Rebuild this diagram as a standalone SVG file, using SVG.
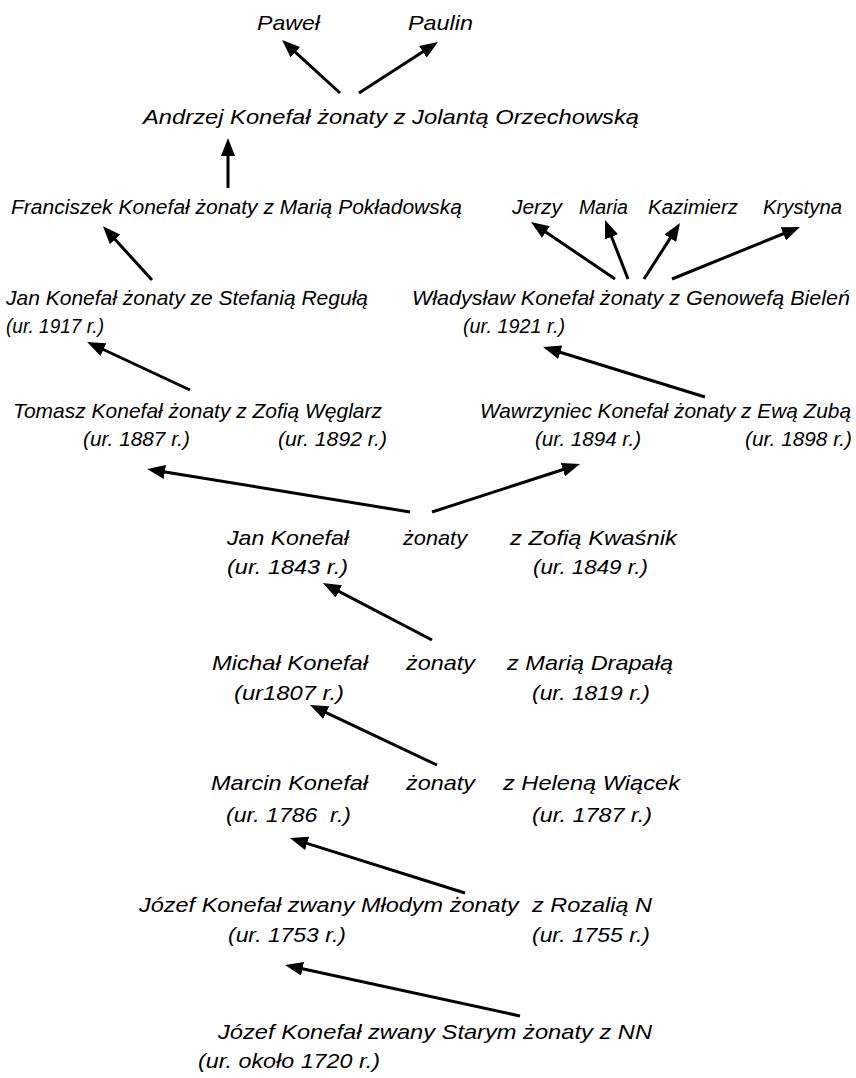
<svg xmlns="http://www.w3.org/2000/svg" width="856" height="1078" viewBox="0 0 856 1078">
  <style>
    text { font-family: "Liberation Sans Narrow", "Liberation Sans", Arial, sans-serif; font-style: italic; font-size: 21px; fill: #000; }
    .s { font-size: 20px; }
    .edge { stroke: #000; stroke-width: 3; fill: none; marker-end: url(#arrow); }
  </style>
  <defs>
    <marker id="arrow" markerUnits="userSpaceOnUse" markerWidth="18" markerHeight="14" refX="6" refY="7" orient="auto">
      <path d="M0,0 L18,7 L0,14 z" fill="#000"/>
    </marker>
  </defs>

  <rect width="856" height="1078" fill="#fff"/>

  <g id="connectors">
    <line class="edge" x1="340" y1="93" x2="290.9" y2="48.1"/>
    <line class="edge" x1="359" y1="93" x2="427.9" y2="48.5"/>
    <line class="edge" x1="228" y1="188" x2="228" y2="150"/>
    <line class="edge" x1="152" y1="280" x2="111" y2="235"/>
    <line class="edge" x1="615" y1="279" x2="540.9" y2="228.7"/>
    <line class="edge" x1="628" y1="279" x2="609.4" y2="231.2"/>
    <line class="edge" x1="644" y1="279" x2="673.5" y2="233.1"/>
    <line class="edge" x1="672" y1="279" x2="788.9" y2="231.5"/>
    <line class="edge" x1="190" y1="390" x2="98" y2="347"/>
    <line class="edge" x1="705" y1="397" x2="554.5" y2="350.5"/>
    <line class="edge" x1="410" y1="512" x2="159" y2="471"/>
    <line class="edge" x1="432" y1="512" x2="568.6" y2="467.7"/>
    <line class="edge" x1="432" y1="640" x2="333.6" y2="588.6"/>
    <line class="edge" x1="437" y1="765" x2="320.8" y2="710.1"/>
    <line class="edge" x1="465" y1="893" x2="301.4" y2="841.6"/>
    <line class="edge" x1="520" y1="1016" x2="296.7" y2="967.5"/>
  </g>

  <g id="pawel"><text x="257" y="30" textLength="63" lengthAdjust="spacingAndGlyphs">Paweł</text></g>
  <g id="paulin"><text x="408" y="30" textLength="65" lengthAdjust="spacingAndGlyphs">Paulin</text></g>

  <g id="andrzej"><text x="143" y="124" textLength="496" lengthAdjust="spacingAndGlyphs">Andrzej Konefał żonaty z Jolantą Orzechowską</text></g>

  <g id="franciszek"><text class="s" x="11" y="214" textLength="451" lengthAdjust="spacingAndGlyphs">Franciszek Konefał żonaty z Marią Pokładowską</text></g>
  <g id="jerzy"><text class="s" x="512" y="214" textLength="50" lengthAdjust="spacingAndGlyphs">Jerzy</text></g>
  <g id="maria"><text class="s" x="579" y="214" textLength="49" lengthAdjust="spacingAndGlyphs">Maria</text></g>
  <g id="kazimierz"><text class="s" x="648" y="214" textLength="90" lengthAdjust="spacingAndGlyphs">Kazimierz</text></g>
  <g id="krystyna"><text class="s" x="763" y="214" textLength="79" lengthAdjust="spacingAndGlyphs">Krystyna</text></g>

  <g id="jan-1917">
    <text x="6" y="305" textLength="362" lengthAdjust="spacingAndGlyphs">Jan Konefał żonaty ze Stefanią Regułą</text>
    <text x="6" y="333" textLength="98" lengthAdjust="spacingAndGlyphs">(ur. 1917 r.)</text>
  </g>
  <g id="wladyslaw">
    <text x="412" y="305" textLength="438" lengthAdjust="spacingAndGlyphs">Władysław Konefał żonaty z Genowefą Bieleń</text>
    <text x="463" y="333" textLength="102" lengthAdjust="spacingAndGlyphs">(ur. 1921 r.)</text>
  </g>

  <g id="tomasz">
    <text x="13" y="418" textLength="369" lengthAdjust="spacingAndGlyphs">Tomasz Konefał żonaty z Zofią Węglarz</text>
    <text x="83" y="446" textLength="107" lengthAdjust="spacingAndGlyphs">(ur. 1887 r.)</text>
    <text x="278" y="446" textLength="109" lengthAdjust="spacingAndGlyphs">(ur. 1892 r.)</text>
  </g>
  <g id="wawrzyniec">
    <text x="480" y="418" textLength="371" lengthAdjust="spacingAndGlyphs">Wawrzyniec Konefał żonaty z Ewą Zubą</text>
    <text x="535" y="446" textLength="106" lengthAdjust="spacingAndGlyphs">(ur. 1894 r.)</text>
    <text x="745" y="446" textLength="107" lengthAdjust="spacingAndGlyphs">(ur. 1898 r.)</text>
  </g>

  <g id="jan-1843">
    <text x="227" y="545" textLength="122" lengthAdjust="spacingAndGlyphs">Jan Konefał</text>
    <text x="403" y="545" textLength="64" lengthAdjust="spacingAndGlyphs">żonaty</text>
    <text x="510" y="545" textLength="167" lengthAdjust="spacingAndGlyphs">z Zofią Kwaśnik</text>
    <text x="227" y="574" textLength="121" lengthAdjust="spacingAndGlyphs">(ur. 1843 r.)</text>
    <text x="533" y="574" textLength="115" lengthAdjust="spacingAndGlyphs">(ur. 1849 r.)</text>
  </g>

  <g id="michal">
    <text x="212" y="670" textLength="156" lengthAdjust="spacingAndGlyphs">Michał Konefał</text>
    <text x="406" y="670" textLength="69" lengthAdjust="spacingAndGlyphs">żonaty</text>
    <text x="507" y="670" textLength="166" lengthAdjust="spacingAndGlyphs">z Marią Drapałą</text>
    <text x="234" y="700" textLength="110" lengthAdjust="spacingAndGlyphs">(ur1807 r.)</text>
    <text x="532" y="700" textLength="118" lengthAdjust="spacingAndGlyphs">(ur. 1819 r.)</text>
  </g>

  <g id="marcin">
    <text x="211" y="790" textLength="157" lengthAdjust="spacingAndGlyphs">Marcin Konefał</text>
    <text x="406" y="790" textLength="69" lengthAdjust="spacingAndGlyphs">żonaty</text>
    <text x="503" y="790" textLength="177" lengthAdjust="spacingAndGlyphs">z Heleną Wiącek</text>
    <text x="226" y="822" textLength="125" lengthAdjust="spacingAndGlyphs" xml:space="preserve">(ur. 1786  r.)</text>
    <text x="532" y="822" textLength="120" lengthAdjust="spacingAndGlyphs">(ur. 1787 r.)</text>
  </g>

  <g id="jozef-mlody">
    <text x="139" y="912" textLength="513" lengthAdjust="spacingAndGlyphs" xml:space="preserve">Józef Konefał zwany Młodym żonaty  z Rozalią N</text>
    <text x="228" y="942" textLength="118" lengthAdjust="spacingAndGlyphs">(ur. 1753 r.)</text>
    <text x="532" y="942" textLength="118" lengthAdjust="spacingAndGlyphs">(ur. 1755 r.)</text>
  </g>

  <g id="jozef-stary">
    <text x="218" y="1039" textLength="434" lengthAdjust="spacingAndGlyphs">Józef Konefał zwany Starym żonaty z NN</text>
    <text x="198" y="1068" textLength="182" lengthAdjust="spacingAndGlyphs">(ur. około 1720 r.)</text>
  </g>
</svg>
